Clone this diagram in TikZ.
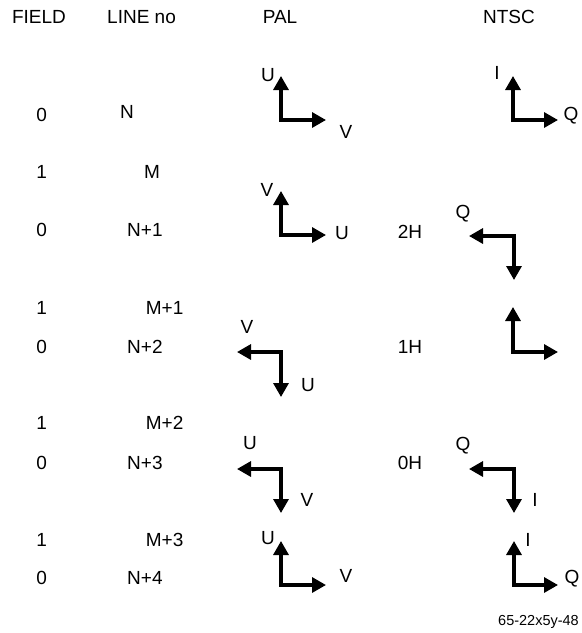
\documentclass[tikz,border=0pt]{standalone}
\usepackage{fontspec}
\setmainfont{Liberation Sans}
\usetikzlibrary{arrows.meta}
\tikzset{
  lbl/.style={font=\fontsize{19}{19}\selectfont, inner sep=0pt, text depth=0pt},
  foot/.style={font=\fontsize{14.5}{14.5}\selectfont, inner sep=0pt, text depth=0pt},
  vec/.style={line width=3.2pt, line join=miter,
    {Triangle[length=14pt,width=15pt]}-{Triangle[length=14pt,width=15pt]}}
}
\begin{document}
\begin{tikzpicture}[x=1pt,y=-1pt]
\useasboundingbox (0,0) rectangle (582,633);
% headers
\node[lbl] (hfield) at (39,17) {FIELD};
\node[lbl,anchor=west] (hline) at (107,17) {LINE no};
\node[lbl] (hpal) at (280,17) {PAL};
\node[lbl] (hntsc) at (509,17) {NTSC};
% field column
\node[lbl] (f1) at (41.7,115) {0};
\node[lbl] (f2) at (41.7,172) {1};
\node[lbl] (f3) at (41.7,230) {0};
\node[lbl] (f4) at (41.7,308) {1};
\node[lbl] (f5) at (41.7,347) {0};
\node[lbl] (f6) at (41.7,423) {1};
\node[lbl] (f7) at (41.7,463) {0};
\node[lbl] (f8) at (41.7,540) {1};
\node[lbl] (f9) at (41.7,578) {0};
% line column
\node[lbl,anchor=west] (l1) at (120,111.7) {N};
\node[lbl,anchor=west] (l2) at (144,172) {M};
\node[lbl,anchor=west] (l3) at (127,230) {N+1};
\node[lbl,anchor=west] (l4) at (145.7,308) {M+1};
\node[lbl,anchor=west] (l5) at (127,347) {N+2};
\node[lbl,anchor=west] (l6) at (145.7,423) {M+2};
\node[lbl,anchor=west] (l7) at (127,463) {N+3};
\node[lbl,anchor=west] (l8) at (145.7,540) {M+3};
\node[lbl,anchor=west] (l9) at (127,578) {N+4};
% H labels
\node[lbl] (h2) at (410,231.7) {2H};
\node[lbl] (h1) at (410,347.3) {1H};
\node[lbl] (h0) at (410,463.3) {0H};
% PAL vectors
\coordinate (p1c) at (281,120); \coordinate (p1a) at (281,76);  \coordinate (p1b) at (326,120);
\coordinate (p2c) at (281,235); \coordinate (p2a) at (281,191); \coordinate (p2b) at (326,235);
\coordinate (p3c) at (281,352); \coordinate (p3a) at (237,352); \coordinate (p3b) at (281,397);
\coordinate (p4c) at (281,469); \coordinate (p4a) at (237,469); \coordinate (p4b) at (281,513);
\coordinate (p5c) at (281,585); \coordinate (p5a) at (281,541); \coordinate (p5b) at (326,585);
\draw[vec] (p1a) -- (p1c) -- (p1b);
\draw[vec] (p2a) -- (p2c) -- (p2b);
\draw[vec] (p3a) -- (p3c) -- (p3b);
\draw[vec] (p4a) -- (p4c) -- (p4b);
\draw[vec] (p5a) -- (p5c) -- (p5b);
\node[lbl] (p1u) at (268,75) {U};
\node[lbl] (p1v) at (346,132) {V};
\node[lbl] (p2v) at (267,190) {V};
\node[lbl] (p2u) at (342,233) {U};
\node[lbl] (p3v) at (247,327) {V};
\node[lbl] (p3u) at (308,385) {U};
\node[lbl] (p4u) at (250,443) {U};
\node[lbl] (p4v) at (307,500) {V};
\node[lbl] (p5u) at (268,538) {U};
\node[lbl] (p5v) at (346,576) {V};
% NTSC vectors
\coordinate (n1c) at (513,120); \coordinate (n1a) at (513,76);  \coordinate (n1b) at (558,120);
\coordinate (n2c) at (514,236); \coordinate (n2a) at (469,236); \coordinate (n2b) at (514,280);
\coordinate (n3c) at (513,352); \coordinate (n3a) at (513,307); \coordinate (n3b) at (558,352);
\coordinate (n4c) at (514,469); \coordinate (n4a) at (469,469); \coordinate (n4b) at (514,513);
\coordinate (n5c) at (514,585); \coordinate (n5a) at (514,541); \coordinate (n5b) at (558,585);
\draw[vec] (n1a) -- (n1c) -- (n1b);
\draw[vec] (n2a) -- (n2c) -- (n2b);
\draw[vec] (n3a) -- (n3c) -- (n3b);
\draw[vec] (n4a) -- (n4c) -- (n4b);
\draw[vec] (n5a) -- (n5c) -- (n5b);
\node[lbl] (n1i) at (497,73) {I};
\node[lbl] (n1q) at (571,114) {Q};
\node[lbl] (n2q) at (463,212) {Q};
\node[lbl] (n4q) at (463,444) {Q};
\node[lbl] (n4i) at (535,500) {I};
\node[lbl] (n5i) at (528,540) {I};
\node[lbl] (n5q) at (572,577) {Q};
% footnote
\node[foot,anchor=east] (fn) at (579,620) {65-22x5y-48};
\end{tikzpicture}
\end{document}
